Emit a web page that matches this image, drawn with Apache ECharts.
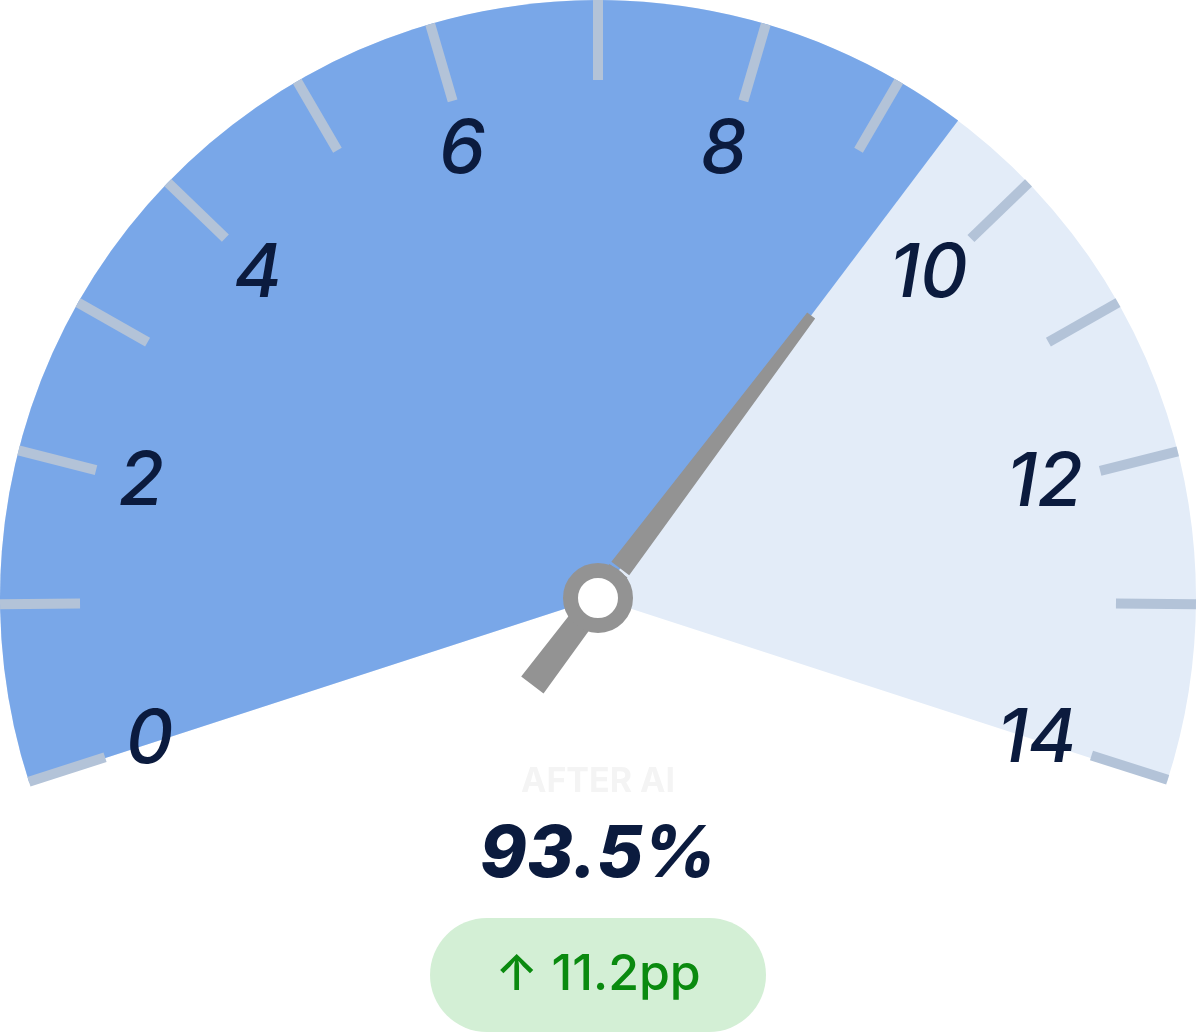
<!DOCTYPE html>
<html>
<head>
<meta charset="utf-8">
<script src="https://cdn.jsdelivr.net/npm/echarts@6/dist/echarts.min.js"></script>
<style>
  html, body { margin: 0; padding: 0; background: #ffffff; }
  #chart { width: 1200px; height: 1034px; }
</style>
</head>
<body>
<div id="chart"></div>
<script>
// ---- data ----
const majorTicks = [0, 2, 4, 6, 8, 10, 12, 14];   // labelled ticks
const minorTicks = [1, 3, 5, 7, 9, 11, 13];       // unlabelled ticks
const gaugeValue = [9.4];
const titleText = ['AFTER AI'];
const headline = ['93.5%'];
const deltaText = ['↑ 11.2pp'];

// ---- layout / style ----
const C = { cx: 598, cy: 598, r: 598 };
const blue = '#79a7e8';
const track = '#e3ecf8';
const tickColor = '#b3c3d8';
const navy = '#0b1b3e';
const grey = '#939393';

// angular placement of the tick groups, as they sit in the reference
const tickGroups = [
  { ticks: minorTicks, start: 180.6, end: -0.6, labels: false },
  { ticks: [majorTicks[0], majorTicks[majorTicks.length - 1]], start: 197.9, end: -17.7, labels: true },
  { ticks: majorTicks.slice(1, 4), start: 165.7, end: 106.3, labels: true },
  { ticks: majorTicks.slice(4, 7), start: 73.7, end: 14.2, labels: true }
];

// pointer: tapered bar, with a thin gap next to the anchor ring
const tipLen = 354, tailLen = 109, tipW = 10, tailW = 28;
const total = tipLen + tailLen;
function wAt(y) { return tipW + (tailW - tipW) * y / total; }
function seg(y0, y1) {
  const a = wAt(y0) / 2, b = wAt(y1) / 2, m = tailW / 2;
  return `M${(m - a).toFixed(2)},${y0} L${(m + a).toFixed(2)},${y0} L${(m + b).toFixed(2)},${y1} L${(m - b).toFixed(2)},${y1} Z`;
}
const gapTop = tipLen - 37, gapBot = tipLen - 34;
const pointerPath = 'path://' + seg(0, gapTop) + ' ' + seg(gapBot, total);

const chart = echarts.init(document.getElementById('chart'));
const base = {
  type: 'gauge',
  center: [C.cx, C.cy],
  radius: C.r,
  animation: false,
  progress: { show: false },
  axisLine: { show: false, lineStyle: { width: 0 } },
  splitLine: { show: false },
  axisTick: { show: false },
  axisLabel: { show: false },
  pointer: { show: false },
  anchor: { show: false },
  title: { show: false },
  detail: { show: false }
};
const mainAxis = {
  startAngle: 198,
  endAngle: -18,
  min: majorTicks[0],
  max: majorTicks[majorTicks.length - 1],
  splitNumber: majorTicks.length - 1
};

const series = [];
// filled track + progress sector + delta badge
series.push(Object.assign({}, base, mainAxis, {
  z: 2,
  axisLine: { show: true, roundCap: false, lineStyle: { width: C.r, color: [[1, track]] } },
  progress: { show: true, width: C.r, roundCap: false, itemStyle: { color: blue } },
  detail: {
    show: true,
    offsetCenter: [0, 377],
    formatter: () => '{b|' + deltaText[0] + '}',
    rich: {
      b: {
        width: 336, height: 114, lineHeight: 114, align: 'center',
        backgroundColor: '#d3efd5', borderRadius: 57,
        color: '#0a8a0f', fontSize: 50, fontFamily: 'Inter', fontWeight: 500
      }
    }
  },
  data: [{ value: gaugeValue[0] }]
}));

// tick groups (+ labels)
tickGroups.forEach(g => {
  series.push(Object.assign({}, base, {
    z: 3,
    startAngle: g.start,
    endAngle: g.end,
    min: g.ticks[0],
    max: g.ticks[g.ticks.length - 1],
    splitNumber: g.ticks.length - 1,
    splitLine: { show: true, distance: 0, length: 80, lineStyle: { width: 10, color: tickColor } },
    axisLabel: {
      show: g.labels, distance: 52, rotate: 0.0001,
      padding: [6, 10, 0, 0],
      color: navy, fontSize: 74,
      fontFamily: 'Inter', fontStyle: 'italic', fontWeight: 500,
      formatter: v => String(Math.round(v))
    },
    data: [{ value: g.ticks[0] }]
  }));
});

// pointer, anchor, title and headline value
series.push(Object.assign({}, base, mainAxis, {
  z: 5,
  pointer: {
    show: true, icon: pointerPath, keepAspect: false,
    width: tailW, length: total, offsetCenter: [0, tailLen],
    itemStyle: { color: grey }
  },
  anchor: {
    show: true, showAbove: true, size: 55,
    itemStyle: { color: '#ffffff', borderColor: grey, borderWidth: 15 }
  },
  title: {
    show: true, offsetCenter: [0, 184],
    color: '#f4f4f4', fontSize: 34, fontWeight: 'bold', fontFamily: 'Inter'
  },
  detail: {
    show: true, offsetCenter: [0, 258],
    formatter: () => headline[0],
    color: navy, fontSize: 71, fontWeight: 800, fontStyle: 'italic', fontFamily: 'Inter'
  },
  data: [{ value: gaugeValue[0], name: titleText[0] }]
}));

chart.setOption({ backgroundColor: '#ffffff', series });
</script>
</body>
</html>
